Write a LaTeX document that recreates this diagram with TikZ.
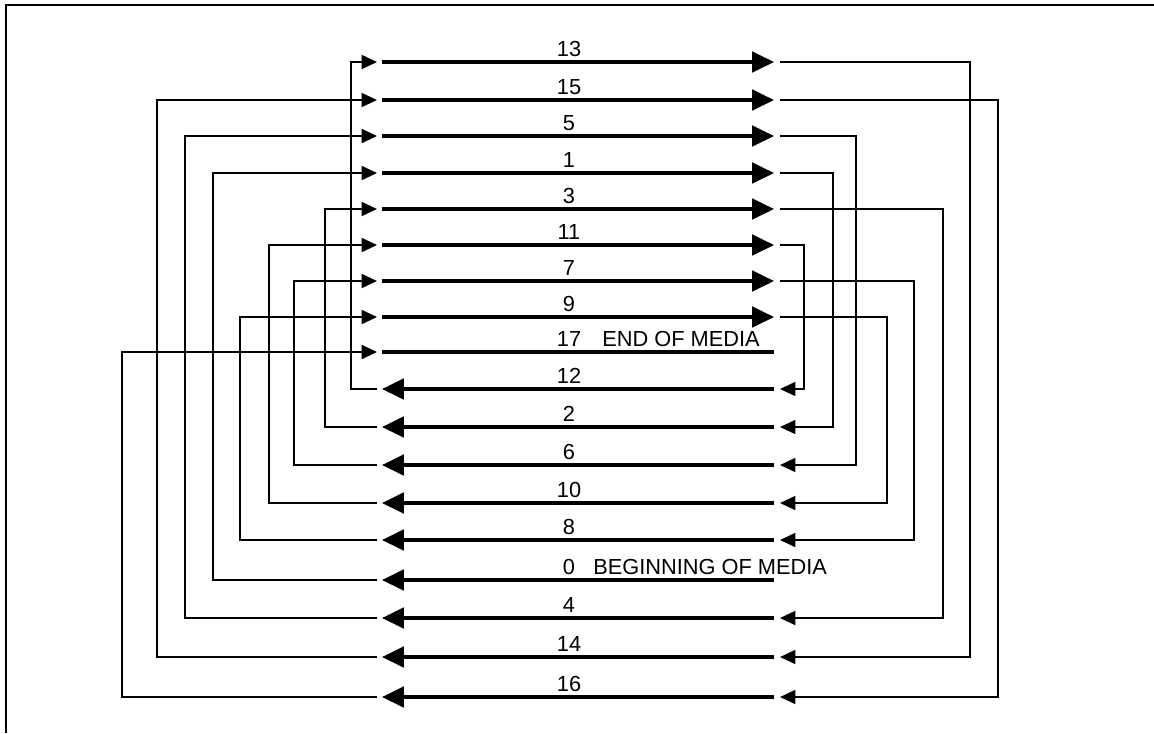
\documentclass[tikz,border=0pt]{standalone}
\usepackage{fontspec}
\setmainfont{Liberation Sans}
\usetikzlibrary{arrows.meta}

\begin{document}
\begin{tikzpicture}[
    x=0.025cm, y=-0.025cm,
    track/.style={line width=2.5pt},
    fwd/.style={track, -{Triangle[length=15.5pt, width=14.5pt]}},
    rev/.style={track, {Triangle[length=15.5pt, width=14.5pt]}-},
    conn/.style={line width=1.35pt, -{Triangle[length=11pt, width=10pt]}},
    lbl/.style={font=\fontsize{15.5}{18}\selectfont, inner sep=0pt, anchor=base},
]
\useasboundingbox (0,0) rectangle (1154,733);

% Frame
\draw[line width=1.3pt] (6,733) -- (6,5) -- (1154,5);

% Track ends and numbers
\foreach \t/\y in {13/62, 15/100, 5/136, 1/173, 3/209, 11/245, 7/281, 9/317, 17/352,
                   12/389, 2/427, 6/465, 10/503, 8/540, 0/580, 4/618, 14/657, 16/697} {
    \coordinate (a\t) at (382,\y);
    \coordinate (b\t) at (774,\y);
    \coordinate (w\t) at (377,\y);
    \coordinate (e\t) at (780,\y);
    \node[lbl] (l\t) at (569,{\y-6}) {\t};
}

% Forward and return tracks
\foreach \t in {1,3,...,15} {
    \draw[fwd] (a\t) -- (b\t);
}
\foreach \t in {0,2,...,16} {
    \draw[rev] (a\t) -- (b\t);
}
\draw[track] (a17) -- (b17);

\node[lbl, anchor=base west] (eom) at (602,346) {END OF MEDIA};
\node[lbl, anchor=base west] (bom) at (593,574) {BEGINNING OF MEDIA};

% Turnarounds at the left end
\foreach \s/\d/\x in {0/1/213, 2/3/325, 4/5/185, 6/7/294, 8/9/240,
                      10/11/269, 12/13/351, 14/15/157, 16/17/122} {
    \draw[conn] (w\s) -- ++({\x-377},0) |- (w\d);
}

% Turnarounds at the right end
\foreach \s/\d/\x in {1/2/833, 3/4/943, 5/6/856, 7/8/914,
                      9/10/887, 11/12/804, 13/14/970, 15/16/998} {
    \draw[conn] (e\s) -- ++({\x-780},0) |- (e\d);
}

\end{tikzpicture}
\end{document}
